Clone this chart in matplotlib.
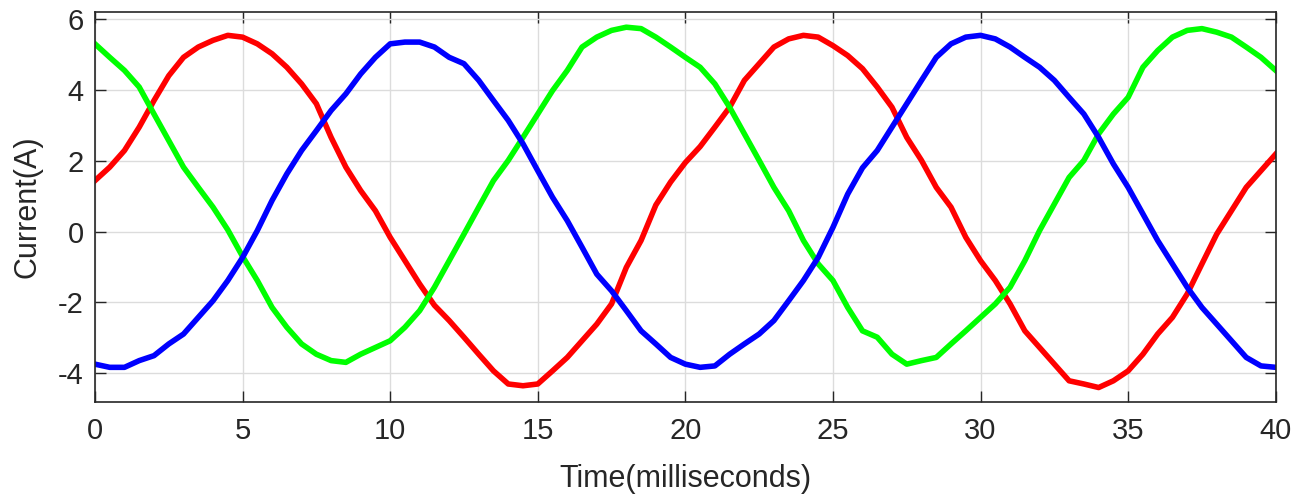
import matplotlib
matplotlib.use("Agg")
import matplotlib.pyplot as plt
import numpy as np

# time axis in milliseconds, samples read every 0.5 ms
t_ms = np.arange(0, 40.5, 0.5)

# phase currents (A)
i_red = [1.44, 1.82, 2.29, 2.95, 3.70, 4.40, 4.92, 5.21, 5.40, 5.54,
         5.49, 5.30, 5.02, 4.64, 4.17, 3.61, 2.66, 1.82, 1.16, 0.59,
         -0.16, -0.82, -1.48, -2.08, -2.51, -2.98, -3.46, -3.93, -4.30, -4.35,
         -4.30, -3.93, -3.55, -3.08, -2.61, -2.04, -1.01, -0.25, 0.75, 1.40,
         1.95, 2.40, 2.95, 3.51, 4.27, 4.74, 5.21, 5.44, 5.54, 5.49,
         5.25, 4.97, 4.60, 4.08, 3.51, 2.66, 2.01, 1.25, 0.69, -0.16,
         -0.82, -1.38, -2.04, -2.80, -3.27, -3.74, -4.21, -4.30, -4.40, -4.21,
         -3.93, -3.46, -2.89, -2.42, -1.76, -0.91, -0.07, 0.59, 1.25, 1.72,
         2.19]
i_green = [5.30, 4.92, 4.55, 4.08, 3.32, 2.57, 1.82, 1.25, 0.69, 0.05,
           -0.70, -1.38, -2.14, -2.70, -3.17, -3.46, -3.64, -3.69, -3.46, -3.27,
           -3.08, -2.70, -2.23, -1.57, -0.82, -0.07, 0.69, 1.44, 2.01, 2.66,
           3.32, 3.98, 4.55, 5.21, 5.49, 5.68, 5.77, 5.73, 5.49, 5.21,
           4.92, 4.64, 4.17, 3.51, 2.76, 2.01, 1.25, 0.59, -0.25, -0.91,
           -1.38, -2.14, -2.80, -2.98, -3.46, -3.74, -3.64, -3.55, -3.17, -2.80,
           -2.42, -2.04, -1.57, -0.82, 0.03, 0.78, 1.53, 2.01, 2.76, 3.32,
           3.79, 4.64, 5.11, 5.49, 5.68, 5.73, 5.63, 5.49, 5.21, 4.92,
           4.55]
i_blue = [-3.74, -3.83, -3.83, -3.64, -3.50, -3.17, -2.89, -2.42, -1.95, -1.38,
          -0.73, 0.03, 0.88, 1.63, 2.29, 2.85, 3.42, 3.89, 4.45, 4.92,
          5.30, 5.35, 5.35, 5.21, 4.92, 4.74, 4.27, 3.70, 3.14, 2.48,
          1.72, 0.97, 0.31, -0.44, -1.20, -1.67, -2.23, -2.80, -3.17, -3.55,
          -3.74, -3.83, -3.79, -3.46, -3.17, -2.89, -2.51, -1.95, -1.38, -0.73,
          0.12, 1.06, 1.80, 2.29, 2.95, 3.61, 4.27, 4.92, 5.30, 5.49,
          5.54, 5.44, 5.21, 4.92, 4.64, 4.27, 3.79, 3.32, 2.66, 1.91,
          1.25, 0.50, -0.25, -0.91, -1.57, -2.14, -2.61, -3.08, -3.55, -3.79,
          -3.83]

x_ticks = [0, 5, 10, 15, 20, 25, 30, 35, 40]
y_ticks = [-4, -2, 0, 2, 4, 6]

plt.rcParams['font.family'] = ['Liberation Sans', 'DejaVu Sans']
plt.rcParams['axes.unicode_minus'] = False
text_col = '#262626'

fig = plt.figure(figsize=(12.99, 5.01), dpi=100)
ax = fig.add_axes([0.0731, 0.1982, 0.9090, 0.7772])

ax.plot(t_ms, i_red, color='#ff0000', linewidth=4)
ax.plot(t_ms, i_green, color='#00ff00', linewidth=4)
ax.plot(t_ms, i_blue, color='#0000ff', linewidth=4)

ax.set_xlim(0, 40)
ax.set_ylim(-4.80, 6.19)
ax.set_xticks(x_ticks)
ax.set_yticks(y_ticks)
ax.grid(True, color='#dcdcdc', linewidth=1)
ax.set_axisbelow(True)

ax.tick_params(direction='in', length=8, width=1, colors=text_col,
               labelsize=21, top=True, right=True)
ax.tick_params(axis='x', pad=11)
ax.tick_params(axis='y', pad=8)
for sp in ax.spines.values():
    sp.set_color(text_col)
    sp.set_linewidth(1.2)

ax.set_xlabel('Time(milliseconds)', fontsize=22, color=text_col, labelpad=14)
ax.set_ylabel('Current(A)', fontsize=22, color=text_col, labelpad=11)

fig.savefig("out.png", dpi=100)
